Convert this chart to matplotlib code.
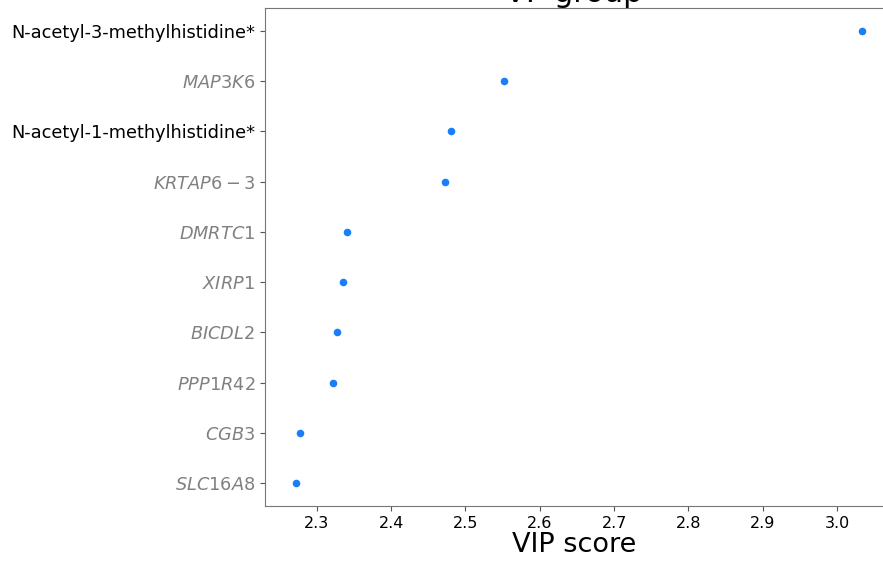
import matplotlib
matplotlib.use('Agg')
import matplotlib.pyplot as plt

# features, top to bottom as shown
features = ['N-acetyl-3-methylhistidine*', 'MAP3K6', 'N-acetyl-1-methylhistidine*',
            'KRTAP6-3', 'DMRTC1', 'XIRP1', 'BICDL2', 'PPP1R42', 'CGB3', 'SLC16A8']
is_gene = [False, True, False, True, True, True, True, True, True, True]
vip = [3.034, 2.552, 2.480, 2.473, 2.340, 2.335, 2.327, 2.322, 2.277, 2.272]

fig = plt.figure(figsize=(8.83, 5.65), dpi=100)
ax = fig.add_axes([0.300, 0.1044, 0.70, 0.8814])

ypos = list(range(len(features)))[::-1]
ax.scatter(vip, ypos, s=30, color='#1a7ff5', zorder=3, linewidths=0)

labels = []
for name, g in zip(features, is_gene):
    if g:
        labels.append('$' + name + '$')
    else:
        labels.append(name)
ax.set_yticks(ypos)
ax.set_yticklabels(labels, fontsize=12.8)
for lab, g in zip(ax.get_yticklabels(), is_gene):
    lab.set_color('#808080' if g else 'black')

ax.set_xticks([2.3, 2.4, 2.5, 2.6, 2.7, 2.8, 2.9, 3.0])
ax.set_xlim(2.230, 3.062)
ax.tick_params(axis='x', labelsize=11.5)
ax.set_xlabel('VIP score', fontsize=19.5, labelpad=1)
ax.set_title('VP group', fontsize=22, pad=1)

for side in ['left', 'bottom', 'top']:
    ax.spines[side].set_color('#777777')
ax.spines['right'].set_visible(False)
ax.tick_params(color='#555555')

fig.savefig('out.png', dpi=100)
